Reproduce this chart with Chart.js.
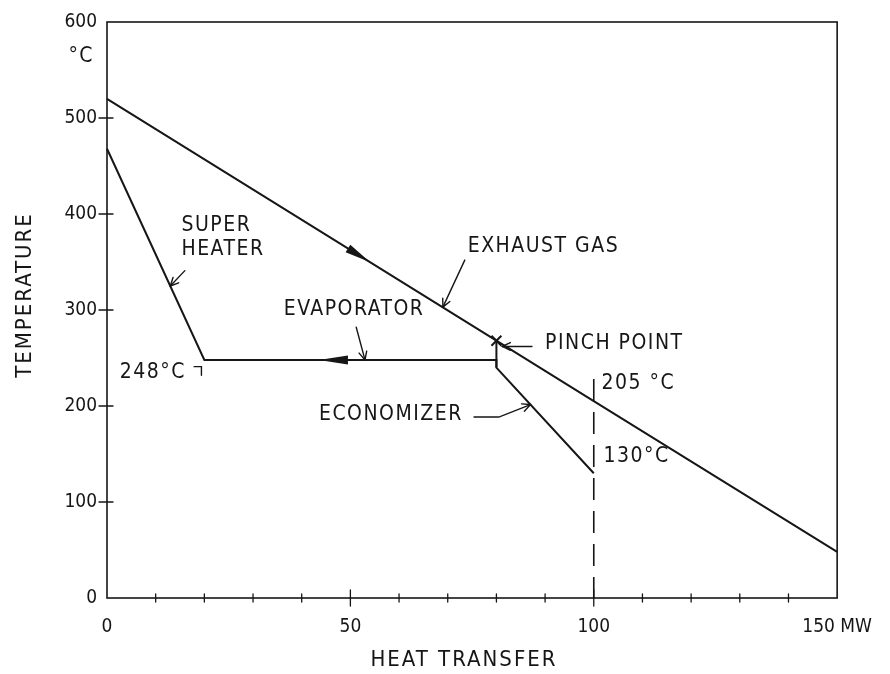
<!DOCTYPE html>
<html>
<head>
<meta charset="utf-8">
<script src="https://cdn.jsdelivr.net/npm/chart.js@4.4.1/dist/chart.umd.min.js"></script>
<style>
  html, body { margin: 0; padding: 0; background: #ffffff; }
  #wrap { width: 890px; height: 674px; }
</style>
</head>
<body>
<div id="wrap"><canvas id="c" width="890" height="674"></canvas></div>
<script>
// Heat transfer (MW) against temperature (°C) for the recovery boiler
const exhaustQ = [0, 80, 100, 150];
const exhaustT = [520, 268, 205, 48];
const steamQ = [0, 20, 80, 80, 100];
const steamT = [468, 248, 248, 240, 130];
const pinchQ = [80, 80];
const pinchT = [268, 240];
const stackQ = [100, 100];
const stackT = [228, 0];
const xTickText = { 0: '0', 50: '50', 100: '100', 150: '150 MW' };
const yTickValues = [0, 100, 200, 300, 400, 500, 600];

const INK = '#161616';
const FONT = "'DejaVu Sans Condensed', 'DejaVu Sans', sans-serif";

const pts = (qs, ts) => qs.map((q, i) => ({ x: q, y: ts[i] }));

// Text labels placed in data units
const notes = [
  { text: 'SUPER', q: 15.3, t: 388, align: 'left' },
  { text: 'HEATER', q: 15.3, t: 363, align: 'left' },
  { text: 'EVAPORATOR', q: 36.3, t: 300, align: 'left' },
  { text: 'EXHAUST GAS', q: 74.1, t: 366, align: 'left' },
  { text: 'PINCH POINT', q: 90, t: 265, align: 'left' },
  { text: '205 °C', q: 101.6, t: 223, align: 'left' },
  { text: '130°C', q: 102, t: 147, align: 'left' },
  { text: 'ECONOMIZER', q: 73.1, t: 191.5, align: 'right' },
  { text: '248°C', q: 2.6, t: 234.5, align: 'left' },
  { text: '°C', q: -5.3, t: 563.5, align: 'center' }
];

// Leader lines, last point is the tip carrying a small open barb
const leaders = [
  [[16, 341], [13, 325]],
  [[51.2, 282], [53, 248]],
  [[73.5, 352], [69, 303]],
  [[87.3, 262], [81.2, 262]],
  [[75.4, 188.5], [80.5, 188.5], [87, 201.5]]
];
const bracket = [[17.9, 241], [19.4, 241], [19.4, 232]];

// Flow direction arrows: [tail, tip]
const flowArrows = [
  [[49.5, 520 - 3.15 * 49.5], [54, 520 - 3.15 * 54]],
  [[49.5, 248], [43.5, 248]]
];

const inkPlugin = {
  id: 'ink',
  afterDatasetsDraw(chart) {
    const { ctx, chartArea: a, scales: { x, y } } = chart;
    const P = (q, t) => [x.getPixelForValue(q), y.getPixelForValue(t)];
    ctx.save();
    ctx.strokeStyle = INK;
    ctx.fillStyle = INK;
    ctx.lineCap = 'round';

    // frame
    ctx.lineWidth = 1.6;
    ctx.strokeRect(a.left, a.top, a.right - a.left, a.bottom - a.top);

    // tick marks crossing the axes
    ctx.lineWidth = 1.3;
    for (let q = 10; q < 150; q += 10) {
      const px = x.getPixelForValue(q);
      const len = q % 50 === 0 ? 8 : 4;
      ctx.beginPath(); ctx.moveTo(px, a.bottom - len); ctx.lineTo(px, a.bottom + len); ctx.stroke();
    }
    yTickValues.forEach(t => {
      if (t === 0 || t === 600) return;
      const py = y.getPixelForValue(t);
      ctx.beginPath(); ctx.moveTo(a.left - 8, py); ctx.lineTo(a.left + 6, py); ctx.stroke();
    });

    // leader lines with barbs
    ctx.lineWidth = 1.4;
    leaders.forEach(path => {
      const p = path.map(([q, t]) => P(q, t));
      ctx.beginPath();
      p.forEach(([px, py], i) => i ? ctx.lineTo(px, py) : ctx.moveTo(px, py));
      ctx.stroke();
      const [tx, ty] = p[p.length - 1];
      const [sx, sy] = p[p.length - 2];
      const ang = Math.atan2(ty - sy, tx - sx);
      [0.45, -0.45].forEach(d => {
        ctx.beginPath();
        ctx.moveTo(tx, ty);
        ctx.lineTo(tx - 9 * Math.cos(ang + d), ty - 9 * Math.sin(ang + d));
        ctx.stroke();
      });
    });

    // bracket beside the 248°C label
    ctx.beginPath();
    bracket.forEach(([q, t], i) => { const [px, py] = P(q, t); i ? ctx.lineTo(px, py) : ctx.moveTo(px, py); });
    ctx.stroke();

    // filled flow arrows
    flowArrows.forEach(([tail, tip]) => {
      const [bx, by] = P(tail[0], tail[1]);
      const [tx, ty] = P(tip[0], tip[1]);
      const ang = Math.atan2(ty - by, tx - bx);
      const w = 4.5;
      ctx.beginPath();
      ctx.moveTo(tx, ty);
      ctx.lineTo(bx + w * Math.sin(ang), by - w * Math.cos(ang));
      ctx.lineTo(bx - w * Math.sin(ang), by + w * Math.cos(ang));
      ctx.closePath();
      ctx.fill();
    });

    // labels
    ctx.font = `21px ${FONT}`;
    ctx.textBaseline = 'middle';
    ctx.letterSpacing = '1.5px';
    notes.forEach(n => {
      const [px, py] = P(n.q, n.t);
      ctx.textAlign = n.align;
      ctx.fillText(n.text, px, py);
    });

    // axis titles
    ctx.font = `22px ${FONT}`;
    ctx.letterSpacing = '2px';
    ctx.textAlign = 'center';
    ctx.fillText('HEAT TRANSFER', 464, 660);
    ctx.save();
    ctx.translate(25, 295);
    ctx.rotate(-Math.PI / 2);
    ctx.fillText('TEMPERATURE', 0, 0);
    ctx.restore();

    ctx.restore();
  }
};

const lineSet = (data, extra) => Object.assign({
  data,
  borderColor: INK,
  borderWidth: 2,
  pointRadius: 0,
  tension: 0,
  fill: false,
  clip: false
}, extra || {});

new Chart(document.getElementById('c'), {
  type: 'line',
  data: {
    datasets: [
      lineSet(pts(exhaustQ, exhaustT)),
      lineSet(pts(steamQ, steamT)),
      lineSet(pts(pinchQ, pinchT), {
        pointRadius: [7, 0],
        pointStyle: 'crossRot',
        pointBorderColor: INK,
        pointBorderWidth: 2
      }),
      lineSet(pts(stackQ, stackT), { borderWidth: 1.6, borderDash: [22, 11] })
    ]
  },
  options: {
    responsive: false,
    animation: false,
    parsing: true,
    layout: { padding: { left: 0, right: 47, top: 22, bottom: 0 } },
    plugins: { legend: { display: false }, tooltip: { enabled: false } },
    scales: {
      x: {
        type: 'linear',
        min: 0,
        max: 150,
        afterFit(s) { s.height = 76; },
        grid: { display: false, drawTicks: false },
        border: { display: false },
        ticks: {
          stepSize: 10,
          autoSkip: false,
          maxRotation: 0,
          padding: 18,
          color: INK,
          font: { family: FONT, size: 19 },
          callback: v => (xTickText[v] !== undefined ? xTickText[v] : '')
        }
      },
      y: {
        type: 'linear',
        min: 0,
        max: 600,
        afterFit(s) { s.width = 107; },
        grid: { display: false, drawTicks: false },
        border: { display: false },
        ticks: {
          stepSize: 100,
          padding: 10,
          color: INK,
          font: { family: FONT, size: 19 }
        },
        afterBuildTicks(s) { s.ticks = yTickValues.map(v => ({ value: v })); }
      }
    }
  },
  plugins: [inkPlugin]
});
</script>
</body>
</html>
